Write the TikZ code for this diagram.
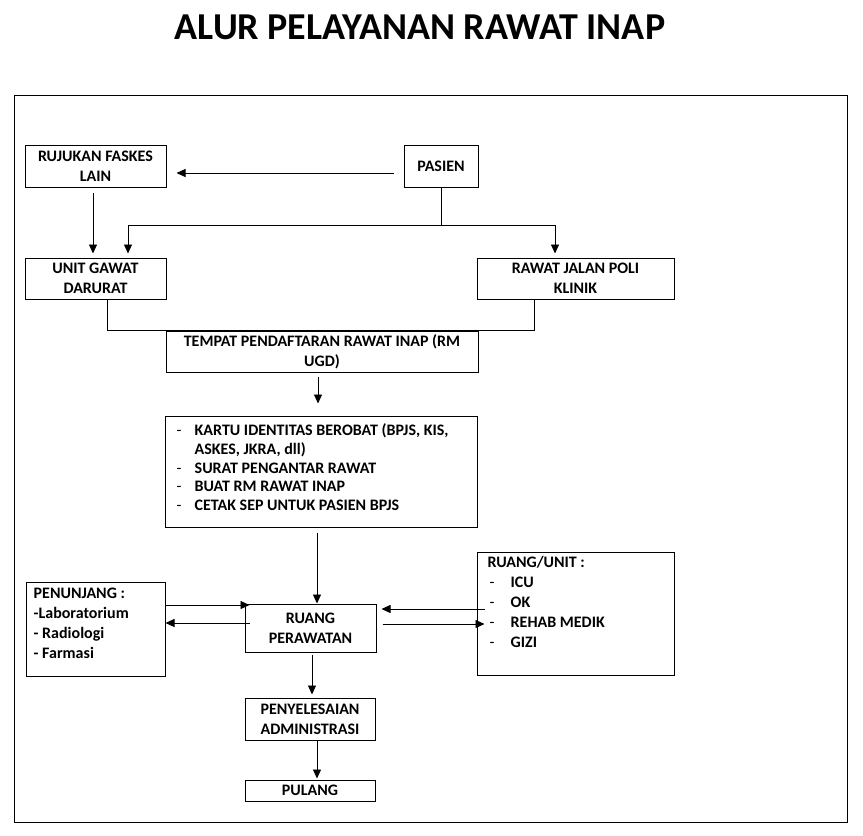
\documentclass[tikz,border=0pt]{standalone}
\usepackage{fontspec}
\setmainfont{Carlito}
\usetikzlibrary{arrows.meta, positioning}
\tikzset{%
>={Triangle[width=8pt,length=9pt]},
% Specifications for style of nodes:
base/.style = {draw, line width=1pt, inner sep=2pt, text centered, font=\bfseries\fontsize{16}{20}\selectfont},
process/.style = {base, rectangle, align=center},
listbox/.style = {base, rectangle},
listtext/.style = {inner sep=0pt, anchor=north west, font=\bfseries\fontsize{16}{20}\selectfont},
link/.style = {line width=0.9pt},
}

\begin{document}
\begin{tikzpicture}[x=1pt, y=-1pt]
    \useasboundingbox (0,0) rectangle (863,836);
    % Title and outer frame
    \node (title) [anchor=base, font=\bfseries\fontsize{38}{45}\selectfont] at (420,39) {ALUR PELAYANAN RAWAT INAP};
    \draw [line width=1pt] (14,95) rectangle (847,822);

    % Specification of nodes (position, etc.)
    \node (rujukan) [process, minimum width=141pt, minimum height=42pt] at (95.5,166) {RUJUKAN FASKES\\LAIN};
    \node (pasien) [process, minimum width=74pt, minimum height=42pt] at (441,166) {PASIEN};
    \node (ugd) [process, minimum width=141pt, minimum height=41pt] at (95.5,278.5) {UNIT GAWAT\\DARURAT};
    \node (rawatJalan) [process, minimum width=197pt, minimum height=41pt] at (575.5,278.5) {RAWAT JALAN POLI\\KLINIK};
    \node (tempat) [process, minimum width=312pt, minimum height=41pt] at (322,351.5) {TEMPAT PENDAFTARAN RAWAT INAP (RM\\UGD)};
    \node (kartu) [listbox, minimum width=312pt, minimum height=111pt] at (321,471.5) {};
    \node (kartuList) [listtext, font=\bfseries\fontsize{16}{18.7}\selectfont, below right=7pt and 12pt of kartu.north west] {%
        \begin{tabular}{@{}l@{}}
        \makebox[18pt][l]{\mdseries -}KARTU IDENTITAS BEROBAT (BPJS, KIS,\\
        \hspace*{18pt}ASKES, JKRA, dll)\\
        \makebox[18pt][l]{\mdseries -}SURAT PENGANTAR RAWAT\\
        \makebox[18pt][l]{\mdseries -}BUAT RM RAWAT INAP\\
        \makebox[18pt][l]{\mdseries -}CETAK SEP UNTUK PASIEN BPJS
        \end{tabular}};
    \node (ruang) [process, minimum width=131pt, minimum height=48pt] at (310.5,628) {RUANG\\PERAWATAN};
    \node (penunjang) [listbox, minimum width=139pt, minimum height=94pt] at (95.5,629) {};
    \node (penunjangList) [listtext, below right=3pt and 8pt of penunjang.north west] {%
        \begin{tabular}{@{}l@{}}
        PENUNJANG :\\
        -Laboratorium\\
        - Radiologi\\
        - Farmasi
        \end{tabular}};
    \node (ruangUnit) [listbox, minimum width=197pt, minimum height=123pt] at (575.5,613.5) {};
    \node (ruangUnitList) [listtext, below right=1.5pt and 11pt of ruangUnit.north west] {%
        \begin{tabular}{@{}l@{}}
        RUANG/UNIT :\\
        \makebox[23pt][l]{\hspace{2pt}\mdseries -}ICU\\
        \makebox[23pt][l]{\hspace{2pt}\mdseries -}OK\\
        \makebox[23pt][l]{\hspace{2pt}\mdseries -}REHAB MEDIK\\
        \makebox[23pt][l]{\hspace{2pt}\mdseries -}GIZI
        \end{tabular}};
    \node (admin) [process, minimum width=130pt, minimum height=42pt] at (310,719) {PENYELESAIAN\\ADMINISTRASI};
    \node (pulang) [process, minimum width=130pt, minimum height=21pt] at (310,790.5) {PULANG};

    % Connectors
    \coordinate (pasienSplit) at ([yshift=-38pt]pasien.south);
    \draw [link, ->, shorten <=10pt, shorten >=10pt] ([yshift=-7pt]pasien.west) -- ([yshift=-7pt]rujukan.east);
    \draw [link, ->, shorten >=4pt] (pasien.south) -- (pasienSplit) -| ([xshift=32.5pt]ugd.north);
    \draw [link, ->, shorten >=4pt] (pasienSplit) -| ([xshift=-20.5pt]rawatJalan.north);
    \draw [link, ->, shorten <=5pt, shorten >=4pt] ([xshift=-2.5pt]rujukan.south) -- ([xshift=-2.5pt]ugd.north);
    \draw [link] ([xshift=11.5pt]ugd.south) |- (tempat.north) -| ([xshift=-41.5pt]rawatJalan.south);
    \draw [link, ->, shorten <=4pt, shorten >=12pt] ([xshift=-4pt]tempat.south) -- ([xshift=-3pt]kartu.north);
    \draw [link, ->, shorten <=5pt] ([xshift=-4pt]kartu.south) -- ([xshift=6.5pt]ruang.north);
    \draw [link, ->, shorten >=-5pt] ([yshift=24pt]penunjang.east) -- ([yshift=23pt]ruang.west);
    \draw [link, ->, shorten <=-5pt] ([yshift=5pt]ruang.west) -- ([yshift=6pt]penunjang.east);
    \draw [link, ->, shorten <=-8pt, shorten >=5pt] ([yshift=4.5pt]ruangUnit.west) -- ([yshift=19pt]ruang.east);
    \draw [link, ->, shorten <=6pt, shorten >=-8pt] ([yshift=4pt]ruang.east) -- ([yshift=-10.5pt]ruangUnit.west);
    \draw [link, ->, shorten <=2pt, shorten >=3pt] ([xshift=1.5pt]ruang.south) -- ([xshift=2pt]admin.north);
    \draw [link, ->, shorten >=1pt] ([xshift=7pt]admin.south) -- ([xshift=7pt]pulang.north);
\end{tikzpicture}
\end{document}
